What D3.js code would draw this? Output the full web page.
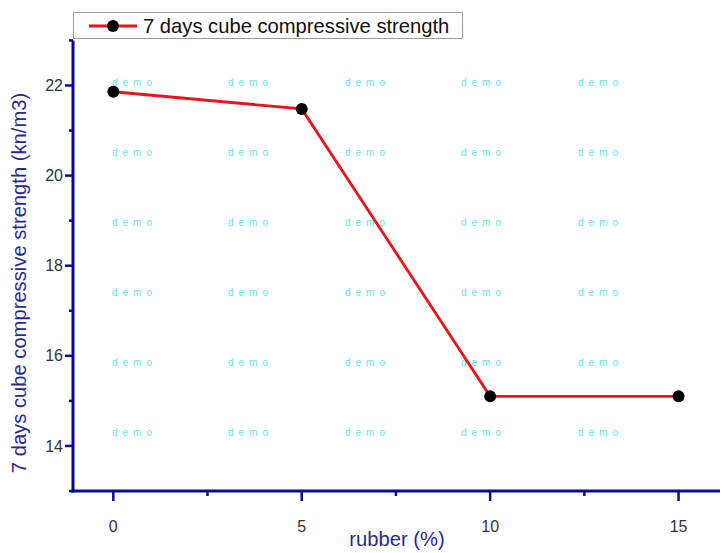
<!DOCTYPE html>
<html>
<head>
<meta charset="utf-8">
<script src="https://cdn.jsdelivr.net/npm/d3@7"></script>
<style>
  html, body { margin: 0; padding: 0; background: #fff; }
  svg { display: block; }
</style>
</head>
<body>
<div id="chart"></div>
<script>
// Compressive strength after 7 days vs. rubber content
const rubber = [0, 5, 10, 15];
const strength = [21.86, 21.48, 15.1, 15.1];
const xTicks = [0, 5, 10, 15];
const yTicks = [14, 16, 18, 20, 22];
const seriesName = "7 days cube compressive strength";
const xTitle = "rubber (%)";
const yTitle = "7 days cube compressive strength (kn/m3)";

const W = 726, H = 553;
const plotLeft = 73, plotRight = 720, plotTop = 40.4, plotBottom = 491;
const axisColor = "#0c0c8a";

const svg = d3.select("#chart").append("svg")
  .attr("width", W).attr("height", H)
  .style("font-family", "Arial, 'Liberation Sans', sans-serif");

const x = d3.scaleLinear().domain([-1.07, 16.1]).range([plotLeft, plotRight]);
const y = d3.scaleLinear().domain([13, 23]).range([plotBottom, plotTop]);

// watermark grid
const wmX = [112, 228, 345, 461, 578];
const wmY = [86, 156, 226, 296, 366, 436];
const wm = svg.append("g").attr("fill", "#62e3ee").attr("font-size", 10)
  .attr("letter-spacing", "5px");
wmY.forEach(yy => wmX.forEach(xx => {
  wm.append("text").attr("x", xx).attr("y", yy).text("demo");
}));

// axes
const yMinor = d3.range(13, 24, 1).filter(v => !yTicks.includes(v));
const xMinor = [2.5, 7.5, 12.5];

const gx = svg.append("g").attr("transform", `translate(0,${plotBottom})`);
gx.append("line").attr("x1", plotLeft - 2).attr("x2", plotRight).attr("stroke", axisColor).attr("stroke-width", 3);
gx.selectAll(".maj").data(xTicks).join("line")
  .attr("x1", d => x(d)).attr("x2", d => x(d)).attr("y1", 0).attr("y2", 10)
  .attr("stroke", axisColor).attr("stroke-width", 2.5);
gx.selectAll(".min").data(xMinor).join("line")
  .attr("x1", d => x(d)).attr("x2", d => x(d)).attr("y1", 0).attr("y2", 5)
  .attr("stroke", axisColor).attr("stroke-width", 2.5);
gx.selectAll("text").data(xTicks).join("text")
  .attr("x", d => x(d)).attr("y", 41).attr("text-anchor", "middle")
  .attr("font-size", 16).attr("fill", "#333").text(d => d);

const gy = svg.append("g").attr("transform", `translate(${plotLeft},0)`);
gy.append("line").attr("y1", plotTop).attr("y2", plotBottom + 1.5).attr("stroke", axisColor).attr("stroke-width", 3);
gy.selectAll(".maj").data(yTicks).join("line")
  .attr("y1", d => y(d)).attr("y2", d => y(d)).attr("x1", 0).attr("x2", -8)
  .attr("stroke", axisColor).attr("stroke-width", 2.5);
gy.selectAll(".min").data(yMinor).join("line")
  .attr("y1", d => y(d)).attr("y2", d => y(d)).attr("x1", 0).attr("x2", -4)
  .attr("stroke", axisColor).attr("stroke-width", 2.5);
gy.selectAll("text").data(yTicks).join("text")
  .attr("x", -10).attr("y", d => y(d)).attr("dy", "0.35em").attr("text-anchor", "end")
  .attr("font-size", 16).attr("fill", "#333").text(d => d);

// axis titles
svg.append("text").attr("x", 397).attr("y", 546).attr("text-anchor", "middle")
  .attr("font-size", 20.2).attr("fill", "#2a2a8c").text(xTitle);
svg.append("text").attr("transform", `translate(26,${283}) rotate(-90)`)
  .attr("text-anchor", "middle").attr("font-size", 20.2).attr("fill", "#2a2a8c").text(yTitle);

// series
const pts = rubber.map((r, i) => [r, strength[i]]);
svg.append("path").datum(pts)
  .attr("d", d3.line().x(d => x(d[0])).y(d => y(d[1])))
  .attr("fill", "none").attr("stroke", "#e8141c").attr("stroke-width", 2.8);
svg.selectAll(".pt").data(pts).join("circle")
  .attr("cx", d => x(d[0])).attr("cy", d => y(d[1])).attr("r", 6).attr("fill", "#000");

// legend
const lg = svg.append("g");
lg.append("rect").attr("x", 73.5).attr("y", 12.5).attr("width", 389).attr("height", 26)
  .attr("fill", "#fff").attr("stroke", "#9a9a9a").attr("stroke-width", 1);
lg.append("line").attr("x1", 89).attr("x2", 137).attr("y1", 26).attr("y2", 26)
  .attr("stroke", "#e8141c").attr("stroke-width", 2.8);
lg.append("circle").attr("cx", 113).attr("cy", 26).attr("r", 6).attr("fill", "#000");
lg.append("text").attr("x", 143).attr("y", 26).attr("dy", "0.36em")
  .attr("font-size", 20.2).attr("fill", "#111").text(seriesName);
</script>
</body>
</html>
